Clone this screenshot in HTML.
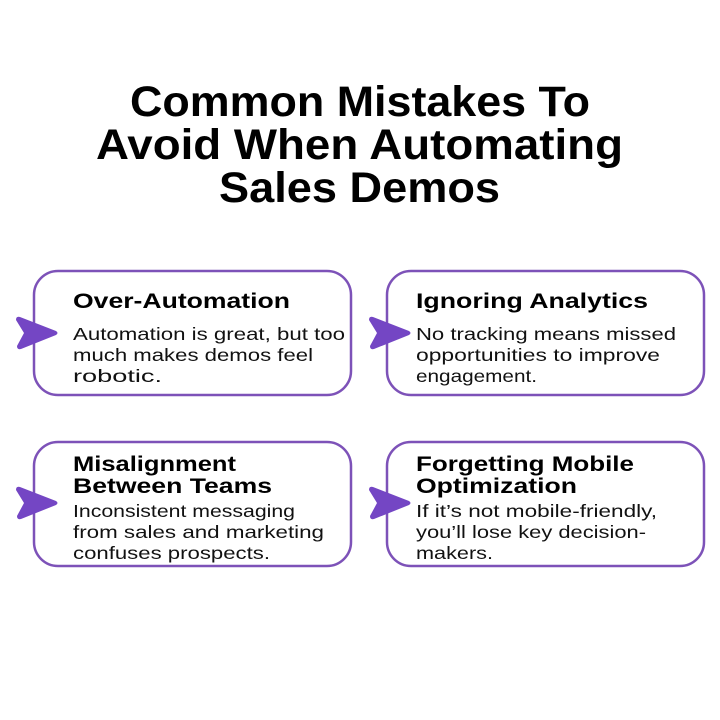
<!DOCTYPE html>
<html><head><meta charset="utf-8"><style>
html,body{margin:0;padding:0;background:#fff;width:720px;height:720px;overflow:hidden}
svg{display:block}
.t{font-family:"Liberation Sans",sans-serif;font-weight:bold;font-size:43px;fill:#000}
.h{font-family:"Liberation Sans",sans-serif;font-weight:bold;font-size:21px;fill:#000}
.b{font-family:"Liberation Sans",sans-serif;font-size:17.5px;fill:#111}
.box{fill:#fff;stroke:#7d52b8;stroke-width:2.5}
.ar{fill:#7446c4}
</style></head><body>
<svg width="720" height="720" viewBox="0 0 720 720">
<text class="t" x="130" y="116" textLength="460" lengthAdjust="spacingAndGlyphs">Common Mistakes To</text>
<text class="t" x="96" y="159" textLength="527" lengthAdjust="spacingAndGlyphs">Avoid When Automating</text>
<text class="t" x="219" y="202" textLength="281" lengthAdjust="spacingAndGlyphs">Sales Demos</text>

<rect class="box" x="34" y="271" width="317" height="124" rx="24"/>
<rect class="box" x="387" y="271" width="317" height="124" rx="24"/>
<rect class="box" x="34" y="442" width="317" height="124" rx="24"/>
<rect class="box" x="387" y="442" width="317" height="124" rx="24"/>

<path class="ar" d="M16,320 Q16,316 20,317 L56,331 Q59,333 56,335 L21,349 Q17,350 17,346 L24,333 Z"/>
<path class="ar" d="M369,320 Q369,316 373,317 L409,331 Q412,333 409,335 L374,349 Q370,350 370,346 L377,333 Z"/>
<path class="ar" d="M16,490 Q16,486 20,487 L56,501 Q59,503 56,505 L21,519 Q17,520 17,516 L24,503 Z"/>
<path class="ar" d="M369,490 Q369,486 373,487 L409,501 Q412,503 409,505 L374,519 Q370,520 370,516 L377,503 Z"/>

<text class="h" x="73" y="308" textLength="217" lengthAdjust="spacingAndGlyphs">Over-Automation</text>
<text class="b" x="73" y="340" textLength="272" lengthAdjust="spacingAndGlyphs">Automation is great, but too</text>
<text class="b" x="73" y="361" textLength="240" lengthAdjust="spacingAndGlyphs">much makes demos feel</text>
<text class="b" x="73" y="382" textLength="89" lengthAdjust="spacingAndGlyphs">robotic.</text>

<text class="h" x="416" y="308" textLength="232" lengthAdjust="spacingAndGlyphs">Ignoring Analytics</text>
<text class="b" x="416" y="340" textLength="260" lengthAdjust="spacingAndGlyphs">No tracking means missed</text>
<text class="b" x="416" y="361" textLength="244" lengthAdjust="spacingAndGlyphs">opportunities to improve</text>
<text class="b" x="416" y="382" textLength="121" lengthAdjust="spacingAndGlyphs">engagement.</text>

<text class="h" x="73" y="471" textLength="163" lengthAdjust="spacingAndGlyphs">Misalignment</text>
<text class="h" x="73" y="493" textLength="199" lengthAdjust="spacingAndGlyphs">Between Teams</text>
<text class="b" x="73" y="517" textLength="222" lengthAdjust="spacingAndGlyphs">Inconsistent messaging</text>
<text class="b" x="73" y="538" textLength="251" lengthAdjust="spacingAndGlyphs">from sales and marketing</text>
<text class="b" x="73" y="559" textLength="197" lengthAdjust="spacingAndGlyphs">confuses prospects.</text>

<text class="h" x="416" y="471" textLength="218" lengthAdjust="spacingAndGlyphs">Forgetting Mobile</text>
<text class="h" x="416" y="493" textLength="161" lengthAdjust="spacingAndGlyphs">Optimization</text>
<text class="b" x="416" y="517" textLength="241" lengthAdjust="spacingAndGlyphs">If it’s not mobile-friendly,</text>
<text class="b" x="416" y="538" textLength="230" lengthAdjust="spacingAndGlyphs">you’ll lose key decision-</text>
<text class="b" x="416" y="559" textLength="77" lengthAdjust="spacingAndGlyphs">makers.</text>
</svg>
</body></html>
